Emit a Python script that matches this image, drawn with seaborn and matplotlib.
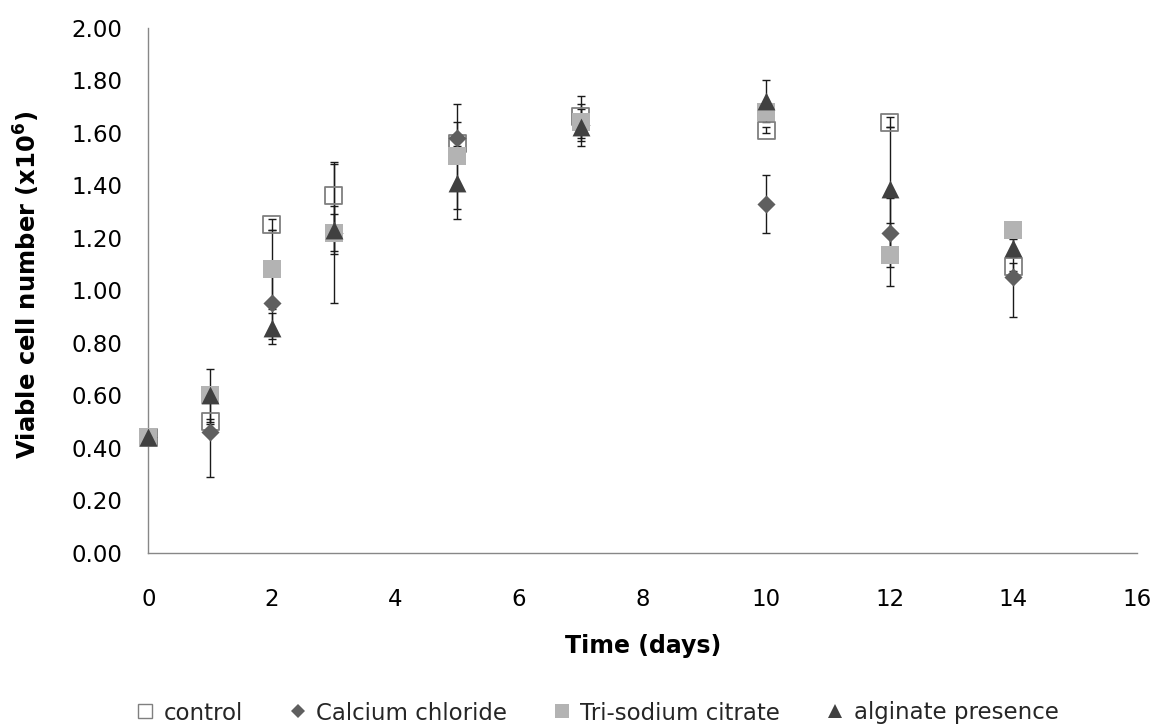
import matplotlib
matplotlib.use("Agg")
import matplotlib.pyplot as plt
from matplotlib.lines import Line2D
from matplotlib.markers import MarkerStyle
import seaborn as sns
import pandas as pd

# ---- data ----
days = [0, 1, 2, 3, 5, 7, 10, 12, 14]

control = [0.44, 0.50, 1.25, 1.36, 1.56, 1.66, 1.61, 1.64, 1.09]
control_err = [0.0, 0.01, 0.02, 0.12, 0.02, 0.08, 0.01, 0.02, 0.015]

calcium = [0.44, 0.46, 0.95, 1.22, 1.58, 1.63, 1.33, 1.22, 1.05]
calcium_err = [0.0, 0.17, 0.135, 0.07, 0.06, 0.02, 0.11, 0.13, 0.15]

citrate = [0.44, 0.60, 1.08, 1.22, 1.51, 1.64, 1.68, 1.135, 1.23]
citrate_err = [0.0, 0.02, 0.15, 0.27, 0.20, 0.07, 0.02, 0.12, 0.01]

alginate = [0.44, 0.60, 0.855, 1.23, 1.41, 1.62, 1.72, 1.385, 1.16]
alginate_err = [0.0, 0.10, 0.06, 0.09, 0.14, 0.07, 0.08, 0.235, 0.035]

series_names = ["control", "Calcium chloride", "Tri-sodium citrate", "alginate presence"]
x_ticks = [0, 2, 4, 6, 8, 10, 12, 14, 16]
y_ticks = [0.0, 0.2, 0.4, 0.6, 0.8, 1.0, 1.2, 1.4, 1.6, 1.8, 2.0]

sns.set_theme(style="white")
plt.rcParams["font.family"] = ["DejaVu Sans"]
plt.rcParams["mathtext.fontset"] = "dejavusans"

fig = plt.figure(figsize=(11.55, 7.27), dpi=100)
ax = fig.add_axes([0.1284, 0.2393, 0.9844 - 0.1284, 0.962 - 0.2393])

values = [control, calcium, citrate, alginate]
errors = [control_err, calcium_err, citrate_err, alginate_err]

df = pd.DataFrame({
    "day": days * 4,
    "value": sum(values, []),
    "err": sum(errors, []),
    "series": sum([[n] * len(days) for n in series_names], []),
})

styles = {
    "control": dict(marker=MarkerStyle("s", fillstyle="none"), s=150, color="#7f7f7f", linewidth=1.3),
    "Calcium chloride": dict(marker="D", s=85, color="#5f5f5f", linewidth=0),
    "Tri-sodium citrate": dict(marker="s", s=160, color="#b3b3b3", linewidth=0),
    "alginate presence": dict(marker="^", s=165, color="#404040", linewidth=0),
}

# error bars
for name in series_names:
    sub = df[df["series"] == name]
    ax.errorbar(sub["day"], sub["value"], yerr=sub["err"], fmt="none",
                ecolor="#1a1a1a", elinewidth=1.0, capsize=3, capthick=1.0, zorder=2)

# markers
for name in series_names:
    sub = df[df["series"] == name]
    st = styles[name]
    sns.scatterplot(data=sub, x="day", y="value", ax=ax, legend=False, zorder=3,
                    clip_on=False, **st)

ax.set_xlim(0, 16)
ax.set_ylim(0, 2.0)
ax.set_xticks(x_ticks)
ax.set_yticks(y_ticks)
ax.set_xticklabels([str(t) for t in x_ticks])
ax.set_yticklabels([f"{t:.2f}" for t in y_ticks])

for side in ["top", "right"]:
    ax.spines[side].set_visible(False)
for side in ["left", "bottom"]:
    ax.spines[side].set_color("#878787")
    ax.spines[side].set_linewidth(1.0)

ax.tick_params(axis="both", which="major", direction="out", length=6.5, width=1.0,
               color="#878787", labelsize=16.5, labelcolor="black")
ax.tick_params(axis="y", pad=12)
ax.tick_params(axis="x", pad=19)
ax.grid(False)

ax.set_xlabel("Time (days)", fontsize=17, fontweight="bold", color="black")
ax.xaxis.label.set_va("center")
ax.xaxis.set_label_coords(0.5, (553 - 646) / (553 - 27.6))
ax.set_ylabel(r"Viable cell number (x10$^\mathbf{6}$)", fontsize=17.5, fontweight="bold", color="black")
ax.yaxis.label.set_va("center")
ax.yaxis.set_label_coords((27 - 148.3) / (1137 - 148.3), 0.51)

handles = [
    Line2D([], [], linestyle="none", marker="s", markersize=10, markerfacecolor="none",
           markeredgecolor="#7f7f7f", markeredgewidth=1.0),
    Line2D([], [], linestyle="none", marker="D", markersize=7.5, markerfacecolor="#5f5f5f",
           markeredgewidth=0),
    Line2D([], [], linestyle="none", marker="s", markersize=10, markerfacecolor="#b3b3b3",
           markeredgewidth=0),
    Line2D([], [], linestyle="none", marker="^", markersize=10, markerfacecolor="#404040",
           markeredgewidth=0),
]
fig.legend(handles, series_names, loc="center left", bbox_to_anchor=(136 / 1155, 1 - 713 / 727),
           ncol=4, frameon=False, fontsize=16.5, handlelength=0.8, handletextpad=0.4,
           columnspacing=2.0, borderpad=0, borderaxespad=0)

fig.savefig("out.png", dpi=100)
